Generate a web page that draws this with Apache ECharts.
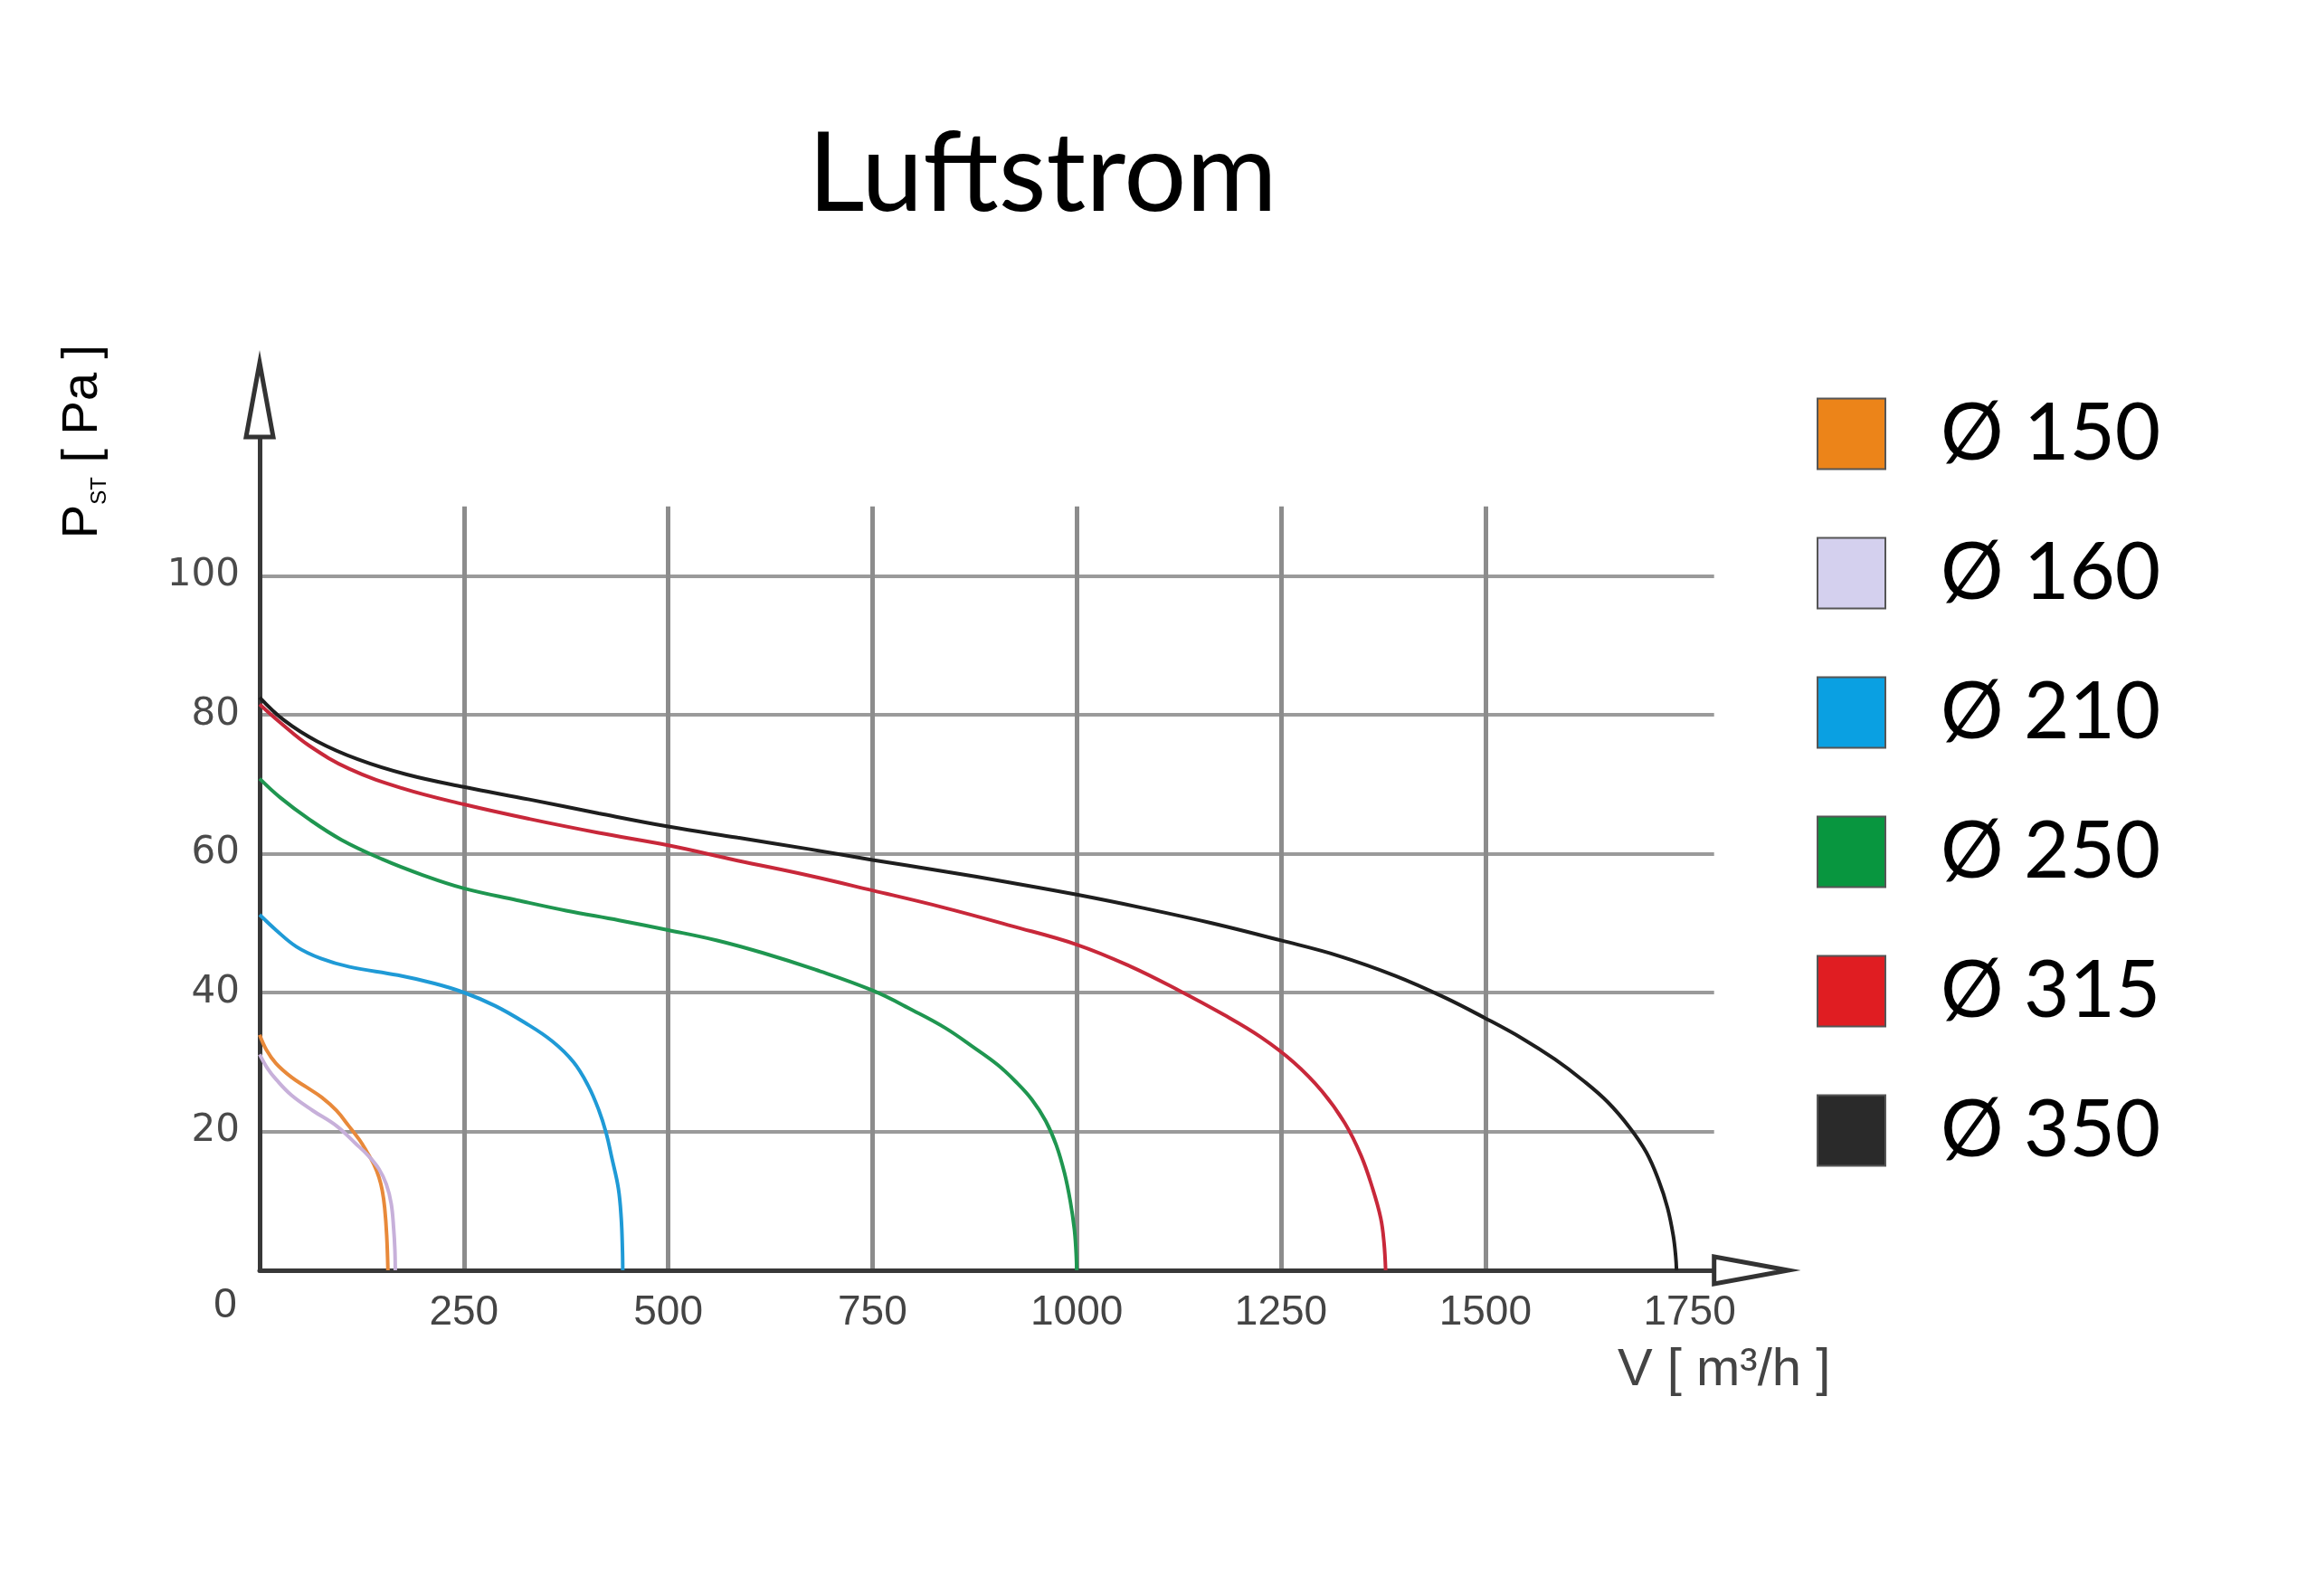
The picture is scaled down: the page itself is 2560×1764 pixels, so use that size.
<!DOCTYPE html>
<html>
<head>
<meta charset="utf-8">
<title>Luftstrom</title>
<script src="https://cdn.jsdelivr.net/npm/echarts@6/dist/echarts.min.js"></script>
<style>
  html, body { margin: 0; padding: 0; background: #fff; }
  #chart { width: 2560px; height: 1764px; }
</style>
</head>
<body>
<div id="chart"></div>
<script>
// fan curves, V [m3/h] -> Pst [Pa]
var d150 = [[0, 33.9], [8, 31.8], [20, 29.8], [39, 27.8], [57, 26.4], [76, 24.9], [94, 23.0], [109, 20.8], [122, 18.8], [131, 17.1], [140, 15.2], [146, 13.4], [150, 11.5], [153, 9.0], [155.5, 5.0], [157, 0]];
var d160 = [[0, 31.1], [10, 29.0], [20, 27.5], [39, 25.2], [65, 23.0], [94, 20.8], [117, 18.3], [133, 16.5], [146, 14.6], [155, 12.4], [161, 9.6], [164, 6.0], [165.5, 3.0], [166, 0]];
var d210 = [[0, 51.2], [20, 49.0], [45, 46.6], [75, 44.9], [110, 43.7], [169, 42.5], [214, 41.3], [250, 40.0], [288, 38.1], [324, 35.7], [358, 33.0], [384, 30.0], [402, 26.6], [415, 23.1], [424, 19.8], [431, 16.2], [439, 11.8], [442.5, 7.5], [444, 3.0], [444.4, 0]];
var d250 = [[0, 70.8], [25, 68.1], [60, 65.0], [100, 62.0], [150, 59.2], [200, 56.9], [250, 55.0], [315, 53.3], [375, 51.8], [440, 50.4], [500, 49.0], [560, 47.5], [616, 45.7], [680, 43.3], [750, 40.3], [800, 37.4], [839, 34.9], [875, 32.0], [903, 29.6], [925, 27.2], [945, 24.6], [962, 21.5], [975, 18.0], [985, 14.0], [992, 10.0], [997, 6.0], [999, 3.0], [1000, 0]];
var d315 = [[0, 81.5], [25, 78.9], [60, 75.6], [110, 72.2], [175, 69.4], [250, 67.1], [330, 65.0], [415, 63.0], [500, 61.2], [585, 59.0], [670, 56.9], [750, 54.7], [835, 52.3], [920, 49.6], [1000, 46.9], [1065, 43.8], [1125, 40.3], [1180, 36.8], [1225, 33.6], [1265, 30.0], [1300, 25.8], [1328, 21.2], [1348, 16.5], [1362, 11.8], [1372, 7.5], [1376, 4.0], [1378, 0]];
var d350 = [[0, 82.5], [30, 79.2], [70, 76.2], [120, 73.6], [180, 71.4], [250, 69.6], [330, 67.8], [415, 65.8], [500, 63.9], [585, 62.3], [670, 60.7], [750, 59.1], [835, 57.5], [920, 55.8], [1000, 54.1], [1080, 52.2], [1165, 50.0], [1250, 47.5], [1320, 45.3], [1390, 42.4], [1450, 39.3], [1500, 36.3], [1545, 33.4], [1585, 30.4], [1620, 27.3], [1650, 24.2], [1677, 20.5], [1697, 17.0], [1712, 13.0], [1723, 9.0], [1730, 5.0], [1733, 2.0], [1734, 0]];

var names = ['Ø 150', 'Ø 160', 'Ø 210', 'Ø 250', 'Ø 315', 'Ø 350'];
var curves = [d150, d160, d210, d250, d315, d350];
var lineColors = ['#e8893a', '#c7b0da', '#1f9ad6', '#1f9650', '#c8283a', '#1e1e1e'];
var swatchColors = ['#ec8419', '#d4d0ee', '#0aa0e2', '#08963f', '#e01d22', '#2a2a2a'];

var xLabels = [250, 500, 750, 1000, 1250, 1500, 1750];
var xGridLines = [250, 500, 750, 1000, 1250, 1500];
var yLabels = [20, 40, 60, 80, 100];

// pixel layout of the plot (origin at 287,1404)
var X0 = 287, Y0 = 1404;
var PX_X = 0.9032, PX_Y = 7.675;  // px per m3/h, px per Pa
var xMax = 1780;                  // x axis line and grid lines end here
var axisYMax = 120;               // y axis line runs up to the arrow
var gridYMax = 110;               // vertical grid lines stop here

var chart = echarts.init(document.getElementById('chart'), null, { renderer: 'canvas' });

var series = curves.map(function (d, i) {
  return {
    name: names[i],
    type: 'line',
    xAxisIndex: 1,
    yAxisIndex: 1,
    data: d,
    showSymbol: false,
    smooth: 0.4,
    lineStyle: { color: lineColors[i], width: 4 },
    itemStyle: { color: lineColors[i] },
    z: 3
  };
});

var axisLineStyle = { color: '#383838', width: 5 };

var option = {
  animation: false,
  backgroundColor: '#fff',
  title: {
    text: 'Luftstrom',
    left: 893,
    top: 133,
    padding: 0,
    textStyle: { fontFamily: 'Lato', fontWeight: 'normal', fontSize: 122, color: '#000' }
  },
  legend: {
    orient: 'vertical',
    left: 2003,
    top: 431,
    icon: 'rect',
    itemWidth: 75,
    itemHeight: 78,
    itemGap: 67,
    selectedMode: false,
    itemStyle: { borderColor: '#555', borderWidth: 2 },
    textStyle: { fontFamily: 'Lato', fontSize: 87, color: '#000', lineHeight: 78, padding: [0, 0, 0, 56] },
    data: names.map(function (n, i) {
      return { name: n, itemStyle: { color: swatchColors[i] } };
    })
  },
  grid: [
    // axes and labels
    { left: X0, top: Y0 - axisYMax * PX_Y, width: xMax * PX_X, height: axisYMax * PX_Y, outerBoundsMode: 'none' },
    // grid lines and curves
    { left: X0, top: Y0 - gridYMax * PX_Y, width: xMax * PX_X, height: gridYMax * PX_Y, outerBoundsMode: 'none' }
  ],
  xAxis: [
    {
      type: 'value', gridIndex: 0, min: 0, max: xMax,
      axisLine: { show: true, onZero: false, lineStyle: axisLineStyle },
      axisTick: { show: false },
      splitLine: { show: false },
      axisLabel: {
        customValues: xLabels, margin: 24,
        formatter: function (v) { return String(v); },
        fontFamily: 'Liberation Sans', fontSize: 46, color: '#444'
      }
    },
    {
      type: 'value', gridIndex: 1, min: 0, max: xMax,
      axisLine: { show: false },
      axisTick: { show: false, customValues: xGridLines },
      axisLabel: { show: false },
      splitLine: { show: true, lineStyle: { color: '#8c8c8c', width: 5 } }
    }
  ],
  yAxis: [
    {
      type: 'value', gridIndex: 0, min: 0, max: axisYMax,
      axisLine: { show: true, onZero: false, lineStyle: axisLineStyle },
      axisTick: { show: false },
      splitLine: { show: false },
      axisLabel: {
        customValues: yLabels, margin: 22,
        fontFamily: 'DejaVu Sans', fontSize: 42, color: '#4a4a4a'
      }
    },
    {
      type: 'value', gridIndex: 1, min: 0, max: gridYMax,
      axisLine: { show: false },
      axisTick: { show: false, customValues: yLabels },
      axisLabel: { show: false },
      splitLine: { show: true, lineStyle: { color: '#9a9a9a', width: 4 } }
    }
  ],
  graphic: [
    {
      id: 'zero', type: 'text', x: 249, y: 1443, z: 10,
      style: { text: '0', font: '46px "Liberation Sans"', fill: '#444', align: 'center', verticalAlign: 'middle' }
    },
    {
      id: 'xName', type: 'text', x: 1788, y: 1515, z: 10,
      style: { text: 'V [ m³/h ]', font: '58px "Liberation Sans"', fill: '#444', align: 'left', verticalAlign: 'middle' }
    },
    {
      id: 'yName', type: 'text', x: 92, y: 488, rotation: Math.PI / 2, z: 10,
      style: {
        text: '{p|P}{s|ST}{p| [ Pa ]}',
        align: 'center', verticalAlign: 'middle',
        rich: {
          p: { fontFamily: 'Liberation Sans', fontSize: 56, lineHeight: 60, color: '#444' },
          s: { fontFamily: 'Liberation Sans', fontSize: 24, lineHeight: 30, color: '#666', verticalAlign: 'bottom' }
        }
      }
    }
  ],
  series: series
};

chart.setOption(option);

// hollow arrow heads at the ends of both axes, placed from the axis scales
var origin = chart.convertToPixel({ gridIndex: 0 }, [0, 0]);
var xEnd = chart.convertToPixel({ gridIndex: 0 }, [xMax, 0]);
var yEnd = chart.convertToPixel({ gridIndex: 0 }, [0, axisYMax]);
var arrowLen = 82, arrowHalf = 15;
var arrowStyle = { fill: '#fff', stroke: '#333', lineWidth: 5, lineJoin: 'miter' };

chart.setOption({
  graphic: [
    {
      id: 'arrowX', type: 'polygon', z: 20,
      shape: { points: [[xEnd[0], origin[1] - arrowHalf], [xEnd[0] + arrowLen, origin[1]], [xEnd[0], origin[1] + arrowHalf]] },
      style: arrowStyle
    },
    {
      id: 'arrowY', type: 'polygon', z: 20,
      shape: { points: [[origin[0] - arrowHalf, yEnd[1]], [origin[0], yEnd[1] - arrowLen], [origin[0] + arrowHalf, yEnd[1]]] },
      style: arrowStyle
    }
  ]
});
</script>
</body>
</html>
